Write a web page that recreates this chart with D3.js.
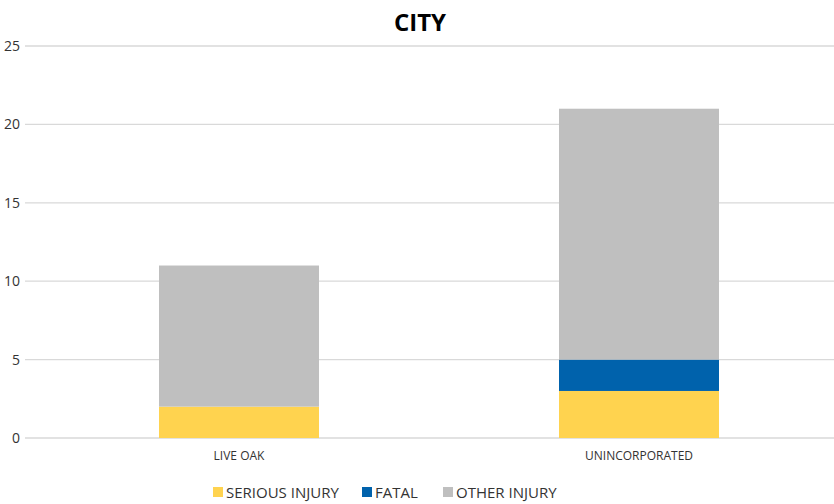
<!DOCTYPE html>
<meta charset="utf-8">
<style>
body { margin: 0; background: #fff; }
text { font-family: "Open Sans", sans-serif; fill: #000; }
.grid line { stroke: #d9d9d9; stroke-width: 1.3px; }
.title { font-weight: bold; font-size: 24px; }
.ytick { font-size: 14px; fill: #333; }
.xlab { font-size: 12px; fill: #333; }
.leg { font-size: 15px; fill: #333; }
</style>
<svg width="834" height="504"></svg>
<script src="https://d3js.org/d3.v7.min.js"></script>
<script>

const categories = ["LIVE OAK", "UNINCORPORATED"];
const seriesNames = ["SERIOUS INJURY", "FATAL", "OTHER INJURY"];
const seriousInjury = [2, 3];
const fatal = [0, 2];
const otherInjury = [9, 16];
const yTicks = [0, 5, 10, 15, 20, 25];
const colors = ["#FFD34F", "#0062AC", "#BFBFBF"];

var svg = d3.select("svg");

var rows = categories.map(function(c, i) {
  return { cat: c, "SERIOUS INJURY": seriousInjury[i], "FATAL": fatal[i], "OTHER INJURY": otherInjury[i] };
});

var x = d3.scaleBand()
  .domain(categories)
  .range([39, 839])
  .paddingInner(0.6)
  .paddingOuter(0.3);

var y = d3.scaleLinear().domain([0, 25]).range([438, 46]);

// gridlines
svg.append("g").attr("class", "grid")
  .selectAll("line").data(yTicks).enter().append("line")
    .attr("x1", 25).attr("x2", 834)
    .attr("y1", function(d) { return y(d); })
    .attr("y2", function(d) { return y(d); });

svg.append("g").selectAll("text").data(yTicks).enter().append("text")
  .attr("class", "ytick")
  .attr("x", 20)
  .attr("y", function(d) { return y(d); })
  .attr("dy", "0.35em")
  .attr("text-anchor", "end")
  .text(function(d) { return d; });

var stack = d3.stack().keys(seriesNames);
var layers = stack(rows);

svg.append("g").selectAll("g").data(layers).enter().append("g")
  .attr("fill", function(d, i) { return colors[i]; })
  .selectAll("rect").data(function(d) { return d; }).enter().append("rect")
    .attr("x", function(d) { return x(d.data.cat); })
    .attr("width", x.bandwidth())
    .attr("y", function(d) { return y(d[1]); })
    .attr("height", function(d) { return y(d[0]) - y(d[1]); });

svg.append("g").selectAll("text").data(categories).enter().append("text")
  .attr("class", "xlab")
  .attr("x", function(d) { return x(d) + x.bandwidth() / 2; })
  .attr("y", 460)
  .attr("text-anchor", "middle")
  .text(function(d) { return d; });

svg.append("text").attr("class", "title")
  .attr("x", 420).attr("y", 31)
  .attr("text-anchor", "middle")
  .text("CITY");

// legend
var legX = [213, 362, 443];
var leg = svg.append("g").selectAll("g").data(seriesNames).enter().append("g")
  .attr("transform", function(d, i) { return "translate(" + legX[i] + ",487)"; });
leg.append("rect").attr("width", 10).attr("height", 10)
  .attr("fill", function(d, i) { return colors[i]; });
leg.append("text").attr("class", "leg")
  .attr("x", 13).attr("y", 10.5)
  .text(function(d) { return d; });

</script>
